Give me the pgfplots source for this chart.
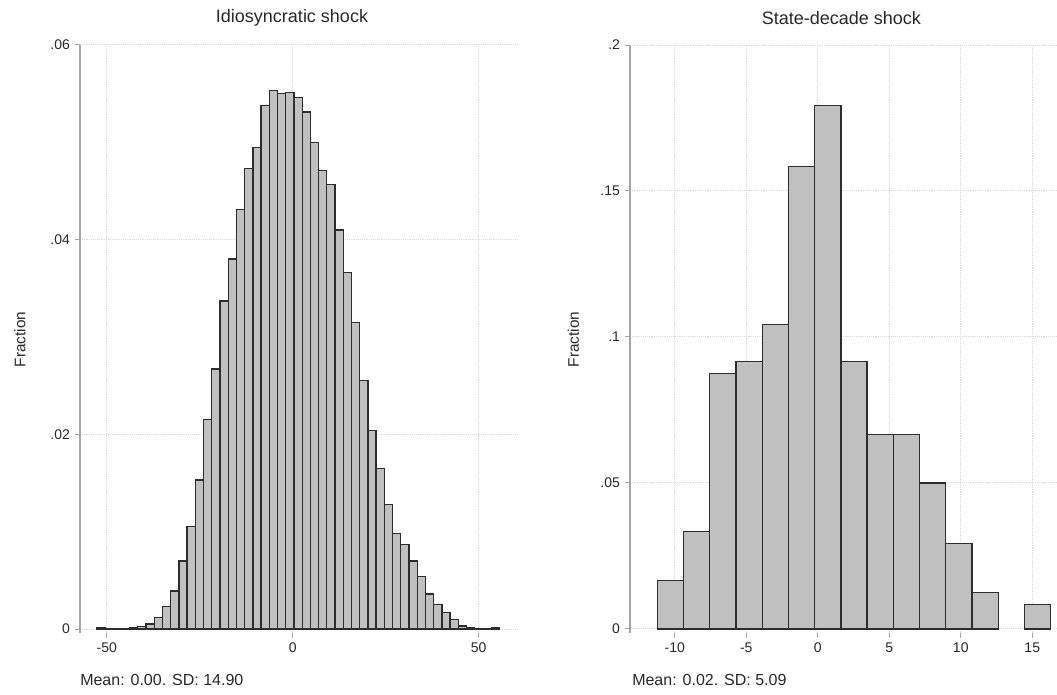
\documentclass[border=0pt]{standalone}
\usepackage{fontspec}
\setmainfont{Liberation Sans}
\usepackage{pgfplots}
\pgfplotsset{compat=1.18}
\definecolor{barfill}{RGB}{192,192,192}
\definecolor{barline}{RGB}{45,45,45}
\definecolor{axgray}{RGB}{165,165,165}
\definecolor{gridc}{RGB}{218,218,218}
\definecolor{txt}{RGB}{40,40,40}

\pgfplotsset{
  mystyle/.style={
    scale only axis,
    anchor=south west,
    height=441pt,
    axis x line*=bottom,
    axis y line*=left,
    axis line style={-},
    x axis line style={draw=none},
    y axis line style={draw=axgray, line width=0.9pt},
    tick style={draw=axgray, line width=0.75pt},
    tick align=outside,
    major tick length=4pt,
    scaled y ticks=false,
    scaled x ticks=false,
    xmajorgrids, ymajorgrids,
    major grid style={draw=gridc, densely dotted, line width=0.75pt},
    ticklabel style={font=\fontsize{10.5}{12}\selectfont, text=txt},
    every axis plot/.append style={ybar, fill=barfill, draw=barline, line width=1pt, bar shift=0pt},
  }
}

\begin{document}
\begin{tikzpicture}
\useasboundingbox (0,0) rectangle (792.75pt,520.5pt);

% Left panel
\begin{axis}[mystyle,
  at={(60pt,45.75pt)},
  width=328.5pt,
  xmin=-57.2, xmax=60.6,
  ymin=-0.00041, ymax=0.06,
  xtick={-50,0,50}, xticklabels={-50,0,50},
  ytick={0,0.02,0.04,0.06}, yticklabels={0,.02,.04,.06},
]
\addplot[bar width=2.21] coordinates {
(-51.595,0.0001) (-49.385,0.00002) (-47.175,0.00002) (-44.965,0.00005) (-42.755,0.0001)
(-40.545,0.00027) (-38.335,0.0005) (-36.125,0.0012) (-33.915,0.0023) (-31.705,0.0039)
(-29.495,0.0070) (-27.285,0.0105) (-25.075,0.0153) (-22.865,0.0215) (-20.655,0.0267)
(-18.445,0.0337) (-16.235,0.0380) (-14.025,0.0431) (-11.815,0.0473) (-9.605,0.0495)
(-7.395,0.0538) (-5.185,0.0553) (-2.975,0.0550) (-0.765,0.0551) (1.445,0.0546)
(3.655,0.0531) (5.865,0.0500) (8.075,0.0471) (10.285,0.0457) (12.495,0.0410)
(14.705,0.0366) (16.915,0.0315) (19.125,0.0255) (21.335,0.0204) (23.545,0.0165)
(25.755,0.0128) (27.965,0.0098) (30.175,0.0087) (32.385,0.0070) (34.595,0.0054)
(36.805,0.0036) (39.015,0.0025) (41.225,0.0017) (43.435,0.0010) (45.645,0.0003)
(47.855,0.0001) (50.065,0.00005) (52.275,0.00005) (54.485,0.0001)
};
\end{axis}

% Right panel
\begin{axis}[mystyle,
  at={(472.5pt,45.75pt)},
  width=320.25pt,
  xmin=-13.13, xmax=16.73,
  ymin=-0.0014, ymax=0.2,
  xtick={-10,-5,0,5,10,15}, xticklabels={-10,-5,0,5,10,15},
  ytick={0,0.05,0.1,0.15,0.2}, yticklabels={0,.05,.1,.15,.2},
]
\addplot[bar width=1.834] coordinates {
(-10.303,0.01667) (-8.469,0.03333) (-6.635,0.0875) (-4.801,0.09167) (-2.967,0.10417)
(-1.133,0.15833) (0.701,0.17917) (2.535,0.09167) (4.369,0.06667) (6.203,0.06667)
(8.037,0.05) (9.871,0.02917) (11.705,0.0125) (15.373,0.00833)
};
\end{axis}

% Titles, labels, notes
\node[font=\fontsize{13.5}{15}\selectfont, text=txt] at (219pt,507pt) {Idiosyncratic shock};
\node[font=\fontsize{13.5}{15}\selectfont, text=txt] at (631pt,507pt) {State-decade shock};
\node[font=\fontsize{11.5}{14}\selectfont, text=txt, rotate=90] at (15pt,266pt) {Fraction};
\node[font=\fontsize{11.5}{14}\selectfont, text=txt, rotate=90] at (430pt,266pt) {Fraction};
\node[font=\fontsize{12}{14}\selectfont, text=txt, anchor=west, inner sep=0pt] at (60pt,10.5pt) {Mean: 0.00. SD: 14.90};
\node[font=\fontsize{12}{14}\selectfont, text=txt, anchor=west, inner sep=0pt] at (474pt,10.5pt) {Mean: 0.02. SD: 5.09};
\end{tikzpicture}
\end{document}
